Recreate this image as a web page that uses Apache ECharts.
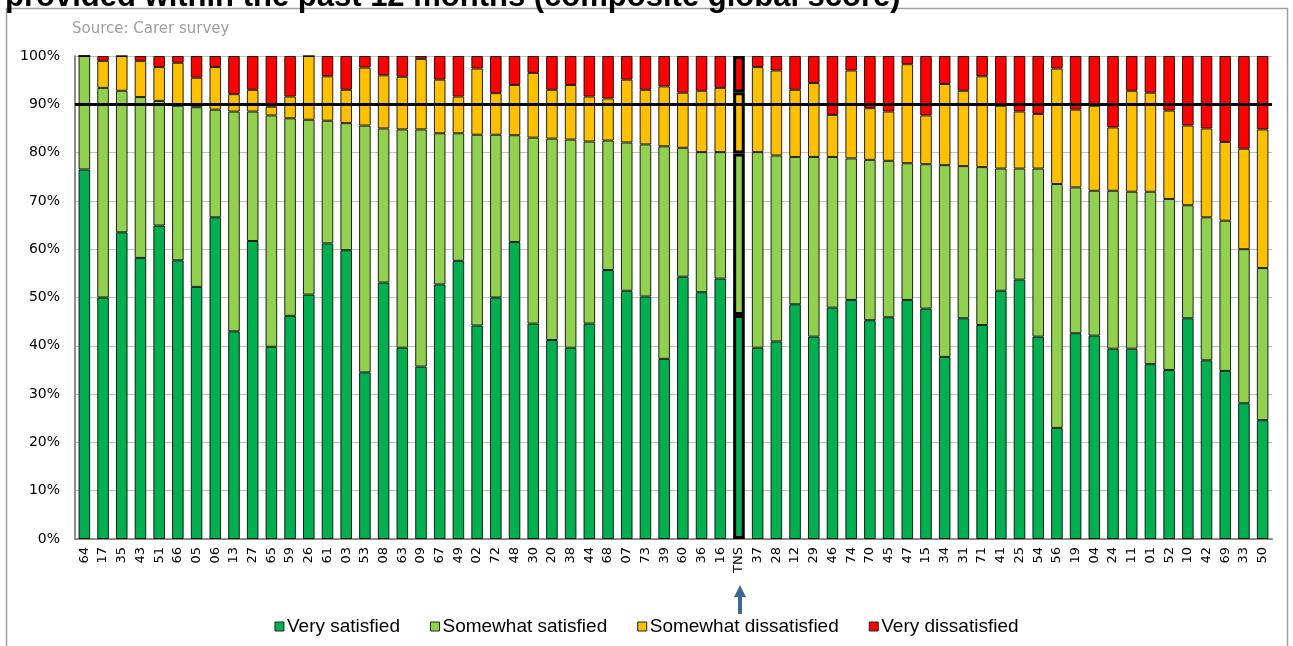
<!DOCTYPE html>
<html>
<head>
<meta charset="utf-8">
<script src="https://cdn.jsdelivr.net/npm/echarts@6/dist/echarts.min.js"></script>
<style>
html,body{margin:0;padding:0;background:#fff;}
#c{width:1293px;height:646px;}
</style>
</head>
<body>
<div id="c"></div>
<script>
const categories = ['64','17','35','43','51','66','05','06','13','27','65','59','26','61','03','53','08','63','09','67','49','02','72','48','30','20','38','44','68','07','73','39','60','36','16','TNS','37','28','12','29','46','74','70','45','47','15','34','31','71','41','25','54','56','19','04','24','11','01','52','10','42','69','33','50'];
const verySatisfied = [76.5,50.0,63.5,58.2,64.9,57.7,52.2,66.6,43.0,61.7,39.8,46.2,50.6,61.2,59.8,34.5,53.1,39.6,35.7,52.7,57.6,44.2,50.0,61.5,44.6,41.2,39.6,44.6,55.7,51.4,50.2,37.3,54.3,51.1,53.9,46.4,39.6,40.9,48.6,41.9,47.9,49.5,45.3,45.9,49.5,47.7,37.7,45.7,44.3,51.4,53.7,41.9,23.0,42.6,42.1,39.4,39.4,36.2,35.0,45.7,37.0,34.8,28.1,24.6];
const somewhatSatisfied = [23.5,43.4,29.3,33.3,25.8,32.0,37.2,22.3,45.5,26.8,47.9,40.9,36.2,25.4,26.3,51.1,31.9,45.2,49.1,31.3,26.4,39.5,33.7,22.1,38.5,41.7,43.1,37.7,26.8,30.7,31.5,44.0,26.7,29.0,26.2,33.4,40.5,38.5,30.5,37.2,31.2,29.3,33.2,32.4,28.3,29.9,39.7,31.5,32.7,25.3,23.0,34.8,50.5,30.2,30.0,32.7,32.5,35.7,35.4,23.4,29.6,31.1,31.9,31.5];
const somewhatDissatisfied = [0,5.6,7.2,7.5,7.0,8.9,6.1,8.8,3.6,4.5,1.8,4.5,13.2,9.2,6.9,12.0,11.0,10.9,14.6,11.1,7.6,13.7,8.6,10.4,13.4,10.1,11.3,9.3,8.7,13.0,11.3,12.4,11.4,12.7,13.3,12.7,17.6,17.6,13.9,15.3,8.7,18.2,10.7,10.2,20.5,10.1,16.8,15.6,18.8,13.0,11.8,11.3,23.9,16.1,17.6,13.1,20.9,20.5,18.3,16.5,18.4,16.3,20.8,28.7];
const veryDissatisfied = [0,1.0,0,1.0,2.3,1.4,4.5,2.3,7.9,7.0,10.5,8.4,0,4.2,7.0,2.4,4.0,4.3,0.6,4.9,8.4,2.6,7.7,6.0,3.5,7.0,6.0,8.4,8.8,4.9,7.0,6.3,7.6,7.2,6.6,7.5,2.3,3.0,7.0,5.6,12.2,3.0,10.8,11.5,1.7,12.3,5.8,7.2,4.2,10.3,11.5,12.0,2.6,11.1,10.3,14.8,7.2,7.6,11.3,14.4,15.0,17.8,19.2,15.2];
const yTicks = [0,10,20,30,40,50,60,70,80,90,100];
const targetLine = 90;
const highlightCategory = 'TNS';
const seriesNames = ['Very satisfied','Somewhat satisfied','Somewhat dissatisfied','Very dissatisfied'];
const seriesColors = ['#00B050','#92D050','#FFC000','#FF0000'];
const allValues = [verySatisfied, somewhatSatisfied, somewhatDissatisfied, veryDissatisfied];

const chart = echarts.init(document.getElementById('c'), null, {renderer:'canvas'});

function buildData(arr){
  return arr.map((v,i)=>{
    if(categories[i]===highlightCategory){
      return {value:v, itemStyle:{borderColor:'#000', borderWidth:3}};
    }
    return v;
  });
}

const series = seriesNames.map((name, k)=>{
  const s = {
    name: name,
    type: 'bar',
    stack: 'total',
    barWidth: '62%',
    data: buildData(allValues[k]),
    itemStyle: {color: seriesColors[k], borderColor: 'rgba(0,0,0,0.85)', borderWidth: 1},
    emphasis: {disabled: true}
  };
  if(k===seriesNames.length-1){
    s.markLine = {
      silent: true,
      symbol: ['none','none'],
      z: 20,
      label: {show:false},
      lineStyle: {color:'#000', width:3, type:'solid'},
      data: [{yAxis: targetLine}]
    };
  }
  return s;
});

const option = {
  animation: false,
  backgroundColor: '#fff',
  grid: {left:75, right:21, top:56, bottom:107, containLabel:false},
  legend: {
    data: seriesNames,
    bottom: 5,
    left: 'center',
    itemWidth: 9,
    itemHeight: 9,
    itemGap: 30,
    icon: 'rect',
    itemStyle: {borderColor:'#222', borderWidth:1},
    textStyle: {fontFamily:'"Liberation Sans Narrow","Liberation Sans",Arial,sans-serif', fontSize:19, color:'#000', padding:[0,0,0,-2]}
  },
  xAxis: {
    type: 'category',
    data: categories,
    axisLine: {show:true, lineStyle:{color:'#8c8c8c', width:2}},
    axisTick: {show:false},
    axisLabel: {rotate:90, interval:0, fontFamily:'"DejaVu Sans",Verdana,sans-serif', fontSize:13, color:'#000', margin:8}
  },
  yAxis: {
    type: 'value',
    min: 0, max: 100, interval: 10,
    axisLine: {show:true, lineStyle:{color:'#8c8c8c', width:2}},
    axisTick: {show:false},
    splitLine: {show:true, lineStyle:{color:'#c0c0c0', width:1}},
    axisLabel: {formatter: v => yTicks.includes(v) ? v + '%' : '', fontFamily:'"DejaVu Sans",Verdana,sans-serif', fontSize:14, color:'#000', margin:15}
  },
  graphic: [
    {type:'rect', silent:true, z:-1, shape:{x:6.5, y:8.5, width:1281, height:700}, style:{fill:'none', stroke:'#a0a0a0', lineWidth:1.5}},
    {type:'text', silent:true, x:5, y:13, style:{text:'provided within the past 12 months (composite global score)', font:'bold 31px "Liberation Sans", Arial, sans-serif', fill:'#000', verticalAlign:'bottom'}},
    {type:'text', silent:true, x:72, y:29, style:{text:'Source: Carer survey', font:'15px "DejaVu Sans", Verdana, sans-serif', fill:'#a0a0a0', verticalAlign:'middle'}},
    {type:'polygon', silent:true, shape:{points:[[740,585],[746,597],[742,597],[742,614],[738,614],[738,597],[734,597]]}, style:{fill:'#3F6796'}}
  ],
  series: series
};
chart.setOption(option);
</script>
</body>
</html>
